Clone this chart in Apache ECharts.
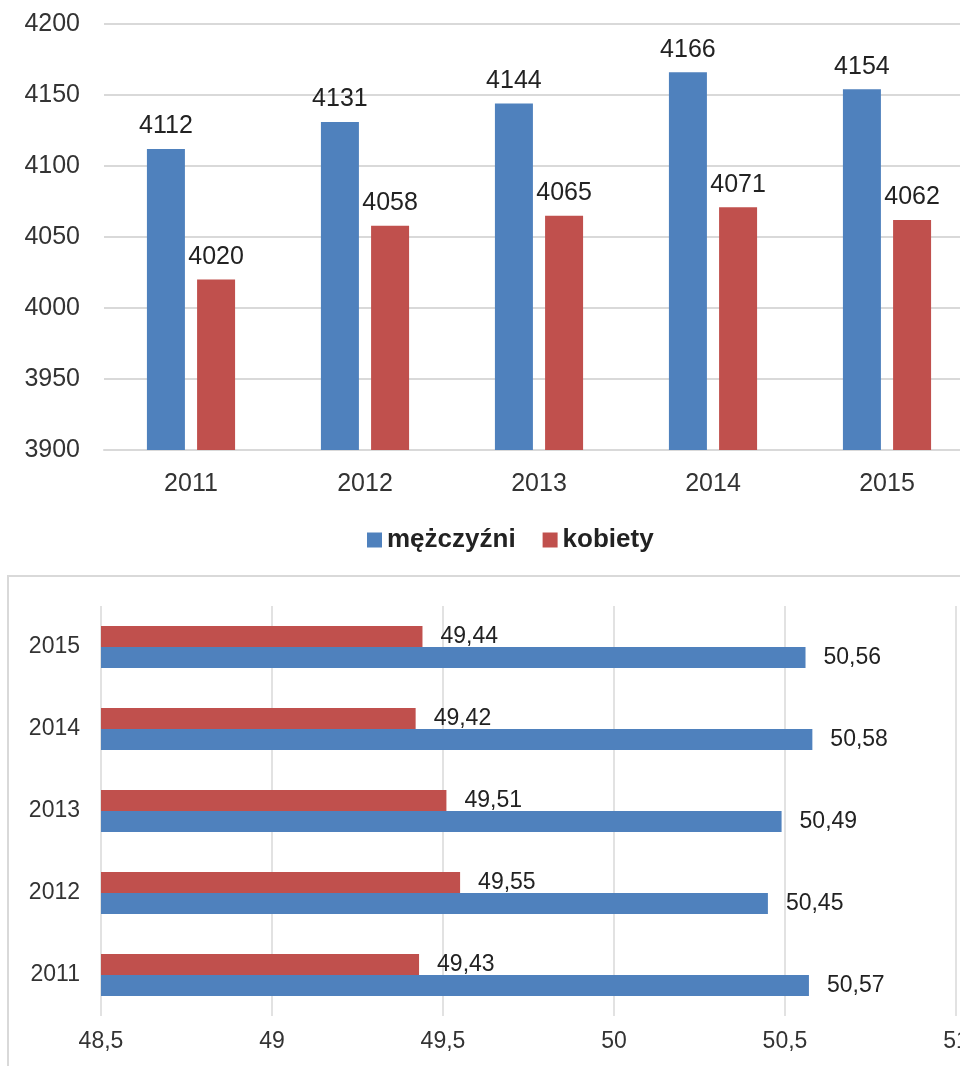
<!DOCTYPE html>
<html><head><meta charset="utf-8">
<script src="https://cdn.jsdelivr.net/npm/echarts@6/dist/echarts.min.js"></script>
<style>html,body{margin:0;padding:0;background:#fff}#c{width:960px;height:1066px}</style>
</head><body><div id="c"></div>
<script>
const years = ['2011','2012','2013','2014','2015'];
const seriesNames = ['mężczyźni','kobiety'];
const menCount = [4112, 4131, 4144, 4166, 4154];
const womenCount = [4020, 4058, 4065, 4071, 4062];
const menPct = [50.57, 50.45, 50.49, 50.58, 50.56];
const womenPct = [49.43, 49.55, 49.51, 49.42, 49.44];
const blue = '#4f81bd', red = '#c0504d';
const fmtComma = v => String(v).replace('.', ',');
const chart = echarts.init(document.getElementById('c'));
const F = 'Liberation Sans, Arial, sans-serif';
chart.setOption({
  animation: false,
  graphic: [{type:'rect', shape:{x:8,y:576,width:980,height:520}, style:{fill:'none', stroke:'#d9d9d9', lineWidth:2}, z:-1}],
  legend: {
    data: seriesNames, left: 362, top: 522, itemWidth: 15, itemHeight: 15, itemGap: 27,
    icon: 'rect',
    textStyle: {fontFamily: F, fontWeight: 'bold', fontSize: 26, color: '#222'}
  },
  grid: [
    {left: 104, top: 24, width: 870, height: 426, outerBoundsMode: 'none', containLabel: false},
    {left: 101, top: 606, width: 855, height: 410, outerBoundsMode: 'none', containLabel: false}
  ],
  xAxis: [
    {gridIndex: 0, type: 'category', data: years, axisTick: {show: false},
     axisLine: {lineStyle: {color: '#d9d9d9', width: 2}},
     axisLabel: {color: '#333', fontSize: 25, fontFamily: F, margin: 22}},
    {gridIndex: 1, type: 'value', min: 48.5, max: 51, interval: 0.5,
     axisLine: {show: false}, axisTick: {show: false},
     splitLine: {lineStyle: {color: '#d9d9d9', width: 1.5}},
     axisLabel: {color: '#333', fontSize: 23, fontFamily: F, margin: 14, formatter: fmtComma,
       showMaxLabel: true}}
  ],
  yAxis: [
    {gridIndex: 0, type: 'value', min: 3900, max: 4200, interval: 50,
     axisLine: {show: false}, axisTick: {show: false},
     splitLine: {lineStyle: {color: '#d9d9d9', width: 2}},
     axisLabel: {color: '#333', fontSize: 25, fontFamily: F, margin: 24, formatter: v => String(v)}},
    {gridIndex: 1, type: 'category', data: years,
     axisLine: {show: false}, axisTick: {show: false},
     axisLabel: {color: '#333', fontSize: 23, fontFamily: F, margin: 21}}
  ],
  series: [
    {name: seriesNames[0], type: 'bar', xAxisIndex: 0, yAxisIndex: 0, data: menCount,
     barWidth: 38, barGap: '32%', itemStyle: {color: blue},
     label: {show: true, position: 'top', distance: 10, color: '#222', fontSize: 25, fontFamily: F}},
    {name: seriesNames[1], type: 'bar', xAxisIndex: 0, yAxisIndex: 0, data: womenCount,
     barWidth: 38, barGap: '32%', itemStyle: {color: red},
     label: {show: true, position: 'top', distance: 10, color: '#222', fontSize: 25, fontFamily: F}},
    {name: seriesNames[1], type: 'bar', xAxisIndex: 1, yAxisIndex: 1, data: womenPct,
     barWidth: 21, barGap: '0%', itemStyle: {color: red},
     label: {show: true, position: 'right', distance: 18, color: '#222', fontSize: 23, fontFamily: F, formatter: p => fmtComma(p.value)}},
    {name: seriesNames[0], type: 'bar', xAxisIndex: 1, yAxisIndex: 1, data: menPct,
     barWidth: 21, barGap: '0%', itemStyle: {color: blue},
     label: {show: true, position: 'right', distance: 18, color: '#222', fontSize: 23, fontFamily: F, formatter: p => fmtComma(p.value)}}
  ]
});
</script></body></html>
